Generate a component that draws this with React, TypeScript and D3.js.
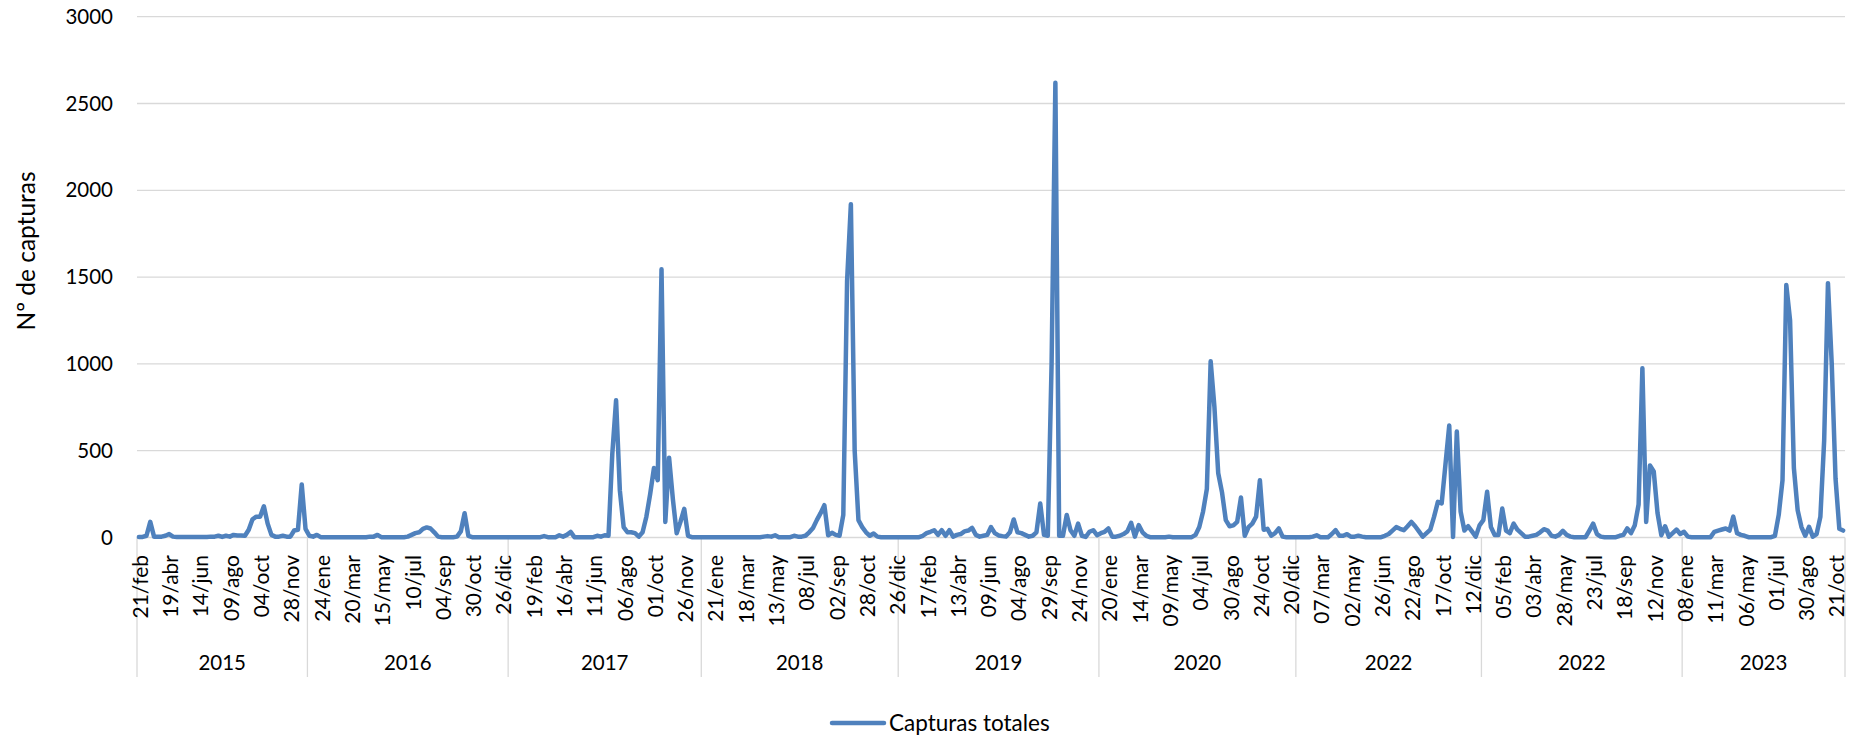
import React from 'react';
import * as d3 from 'd3';

const years = ['2015', '2016', '2017', '2018', '2019', '2020', '2022', '2022', '2023'];
const yearCounts = [45, 53, 51, 52, 53, 52, 49, 53, 43];

const tickLabels = [
  '21/feb', '19/abr', '14/jun', '09/ago', '04/oct', '28/nov',
  '24/ene', '20/mar', '15/may', '10/jul', '04/sep', '30/oct', '26/dic',
  '19/feb', '16/abr', '11/jun', '06/ago', '01/oct', '26/nov',
  '21/ene', '18/mar', '13/may', '08/jul', '02/sep', '28/oct', '26/dic',
  '17/feb', '13/abr', '09/jun', '04/ago', '29/sep', '24/nov',
  '20/ene', '14/mar', '09/may', '04/jul', '30/ago', '24/oct', '20/dic',
  '07/mar', '02/may', '26/jun', '22/ago', '17/oct', '12/dic',
  '05/feb', '03/abr', '28/may', '23/jul', '18/sep', '12/nov',
  '08/ene', '11/mar', '06/may', '01/jul', '30/ago', '21/oct',
];
const tickEvery = 8;

const values2015 = [3, 3, 10, 90, 5, 5, 5, 10, 20, 5, 3, 3, 3, 3, 3, 3, 3, 3, 3, 5, 5, 10, 3, 10, 5, 15, 12, 12, 10, 45, 105, 120, 120, 180, 80, 15, 5, 5, 10, 5, 5, 40, 45, 305, 50];
const values2016 = [10, 5, 15, 2, 2, 2, 2, 2, 2, 2, 2, 2, 2, 2, 2, 2, 5, 5, 15, 2, 2, 2, 2, 2, 2, 2, 5, 15, 25, 30, 50, 58, 52, 30, 5, 2, 2, 2, 2, 5, 35, 140, 10, 2, 2, 2, 2, 2, 2, 2, 2, 2, 2];
const values2017 = [2, 2, 2, 2, 2, 2, 2, 2, 2, 8, 2, 2, 2, 13, 5, 15, 32, 2, 2, 2, 2, 2, 2, 10, 5, 13, 10, 480, 790, 270, 60, 30, 30, 25, 5, 30, 120, 250, 400, 330, 1545, 90, 460, 220, 25, 90, 165, 10, 2, 2, 2];
const values2018 = [2, 2, 2, 2, 2, 2, 2, 2, 2, 2, 2, 2, 2, 2, 2, 2, 5, 8, 5, 13, 2, 2, 2, 2, 10, 5, 5, 10, 30, 55, 100, 140, 186, 13, 27, 15, 10, 130, 1480, 1920, 500, 100, 60, 30, 10, 23, 5, 2, 2, 2, 2, 2];
const values2019 = [2, 2, 2, 2, 2, 2, 10, 25, 33, 42, 15, 42, 10, 42, 5, 15, 20, 35, 40, 55, 15, 5, 10, 15, 60, 25, 12, 8, 5, 30, 104, 30, 25, 15, 5, 10, 30, 196, 15, 10, 1000, 2620, 10, 10, 130, 42, 10, 80, 10, 3, 33, 42, 13];
const values2020 = [25, 33, 52, 5, 5, 10, 20, 35, 84, 5, 71, 30, 10, 2, 2, 2, 2, 2, 5, 2, 2, 2, 2, 2, 2, 15, 60, 150, 280, 1015, 750, 370, 260, 100, 65, 70, 90, 230, 10, 60, 80, 120, 330, 45, 50, 10, 25, 52, 5, 2, 2, 2];
const values2021 = [2, 2, 2, 2, 5, 13, 2, 2, 2, 20, 42, 10, 10, 19, 5, 5, 10, 5, 2, 2, 2, 2, 2, 10, 20, 40, 60, 50, 42, 65, 90, 65, 35, 5, 25, 45, 120, 205, 196, 420, 645, 3, 610, 150, 40, 65, 35, 5, 70];
const values2022 = [100, 263, 60, 15, 15, 167, 40, 25, 80, 45, 25, 5, 5, 10, 15, 30, 48, 40, 10, 5, 15, 38, 15, 5, 2, 2, 2, 2, 40, 80, 20, 5, 2, 2, 2, 2, 10, 15, 52, 25, 71, 190, 975, 90, 415, 380, 140, 13, 65, 5, 25, 46, 20];
const values2023 = [33, 5, 2, 2, 2, 2, 2, 2, 33, 40, 46, 52, 40, 120, 25, 15, 10, 2, 2, 2, 2, 2, 2, 2, 10, 130, 330, 1455, 1250, 400, 157, 60, 10, 61, 5, 20, 120, 560, 1465, 1000, 340, 50, 40];

const yTicks = [0, 500, 1000, 1500, 2000, 2500, 3000];
const seriesName = 'Capturas totales';
const yTitle = 'Nº de capturas';

const FONT = 'Lato, "Open Sans", sans-serif';
const LINE_COLOR = '#4f81bd';
const GRID = '#d9d9d9';

export default function App() {
  const W = 1854;
  const H = 738;
  const left = 137;
  const right = 1845;
  const top = 16.7;
  const bottom = 537.5;

  const all = [
    ...values2015, ...values2016, ...values2017, ...values2018, ...values2019,
    ...values2020, ...values2021, ...values2022, ...values2023,
  ];
  const n = all.length;

  const x = d3.scaleBand<number>().domain(d3.range(n)).range([left, right]).padding(0);
  const bw = x.bandwidth();
  const cx = (i: number) => (x(i) as number) + bw / 2;
  const y = d3.scaleLinear().domain([0, 3000]).range([bottom, top]);

  const line = d3.line<number>().x((_, i) => cx(i)).y((d) => y(d));
  const path = line(all) || '';

  const bounds: number[] = [0];
  yearCounts.forEach((c) => bounds.push(bounds[bounds.length - 1] + c));
  const bx = (k: number) => (k >= n ? right : (x(k) as number));

  return (
    <svg width={W} height={H} style={{ position: 'absolute', left: 0, top: 0, background: '#fff' }} fontFamily={FONT}>
      {yTicks.map((t) => (
        <line key={'g' + t} x1={left} x2={right} y1={y(t)} y2={y(t)} stroke={GRID} strokeWidth={1.3} />
      ))}
      {bounds.map((k, j) => (
        <line key={'s' + j} x1={bx(k)} x2={bx(k)} y1={bottom} y2={677} stroke={GRID} strokeWidth={1.3} />
      ))}
      {yTicks.map((t) => (
        <text key={'yt' + t} x={113} y={y(t)} dy="0.35em" textAnchor="end" fontSize={20.5} fill="#000">
          {t}
        </text>
      ))}
      <text
        transform={`translate(26, 251) rotate(-90)`}
        textAnchor="middle"
        dy="0.35em"
        fontSize={24.5}
        fill="#000"
      >
        {yTitle}
      </text>
      {tickLabels.map((lab, j) => {
        const i = j * tickEvery;
        return (
          <text
            key={'xt' + j}
            transform={`translate(${cx(i) + 2}, 555) rotate(-90)`}
            textAnchor="end"
            dy="0.33em"
            fontSize={21}
            fill="#000"
          >
            {lab}
          </text>
        );
      })}
      {years.map((yr, j) => (
        <text
          key={'yr' + j}
          x={(bx(bounds[j]) + bx(bounds[j + 1])) / 2}
          y={663}
          dy="0.35em"
          textAnchor="middle"
          fontSize={20.5}
          fill="#000"
        >
          {yr}
        </text>
      ))}
      <path d={path} fill="none" stroke={LINE_COLOR} strokeWidth={4.5} strokeLinejoin="round" strokeLinecap="round" />
      <line x1={832} x2={884} y1={723} y2={723} stroke={LINE_COLOR} strokeWidth={4.5} strokeLinecap="round" />
      <text x={889} y={723} dy="0.35em" fontSize={22.5} fill="#000">
        {seriesName}
      </text>
    </svg>
  );
}
